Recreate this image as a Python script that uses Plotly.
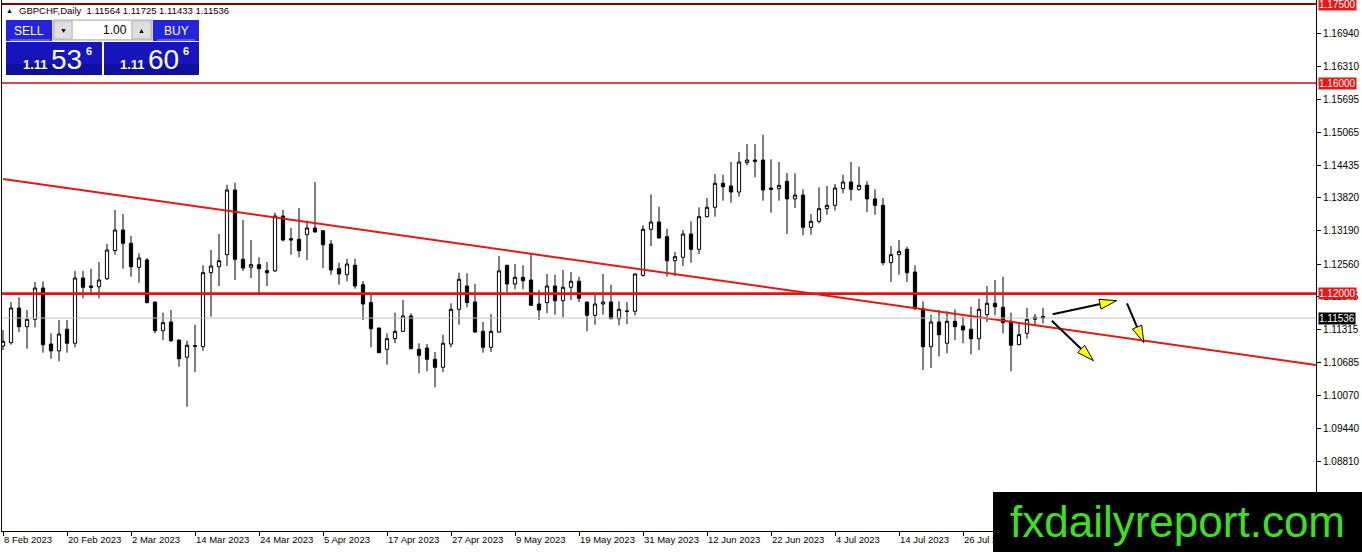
import plotly.graph_objects as go
import pandas as pd

# ---------------- data ----------------
dates = pd.bdate_range("2023-02-08", periods=131)

opens = [1.11004, 1.11067, 1.11726, 1.11371, 1.11511, 1.12106, 1.11042, 1.10912, 1.11322, 1.11056,
         1.12296, 1.12144, 1.12130, 1.12282, 1.12815, 1.13208, 1.12955, 1.12499, 1.12638, 1.11840,
         1.11295, 1.11460, 1.11118, 1.10791, 1.11010, 1.10991, 1.12397, 1.12511, 1.12739, 1.13968,
         1.12651, 1.12499, 1.12549, 1.12435, 1.12431, 1.13474, 1.13043, 1.13031, 1.13119, 1.13246,
         1.13195, 1.12942, 1.12473, 1.12359, 1.12537, 1.12169, 1.11829, 1.11346, 1.10941, 1.11143,
         1.11283, 1.11574, 1.10941, 1.10966, 1.10751, 1.10599, 1.11042, 1.11701, 1.12144, 1.11840,
         1.11283, 1.10979, 1.11270, 1.12537, 1.12182, 1.12309, 1.12258, 1.11802, 1.11829, 1.12144,
         1.11865, 1.12119, 1.12234, 1.11840, 1.11587, 1.11802, 1.11840, 1.11523, 1.11669, 1.11663,
         1.12347, 1.13221, 1.13360, 1.13081, 1.12625, 1.12689, 1.13132, 1.12841, 1.13461, 1.13639,
         1.14095, 1.14044, 1.13930, 1.14487, 1.14538, 1.14538, 1.14006, 1.13994, 1.14133, 1.13799,
         1.13871, 1.13259, 1.13373, 1.13613, 1.13677, 1.13994, 1.14120, 1.13981, 1.14057, 1.13799,
         1.13677, 1.12587, 1.12739, 1.12841, 1.12410, 1.11713, 1.10991, 1.11460, 1.11056, 1.11473,
         1.11384, 1.11322, 1.11143, 1.11599, 1.11815, 1.11739, 1.11473, 1.11029, 1.11245, 1.11511,
         1.11564]
highs = [1.11308, 1.11840, 1.11931, 1.11688, 1.12220, 1.12234, 1.11245, 1.11498, 1.11498, 1.12431,
         1.12431, 1.12473, 1.12600, 1.12942, 1.13588, 1.13512, 1.13094, 1.12765, 1.12676, 1.11845,
         1.11637, 1.11688, 1.11125, 1.11105, 1.11409, 1.12537, 1.12828, 1.13132, 1.14069, 1.14107,
         1.13398, 1.13018, 1.12689, 1.12600, 1.13537, 1.13588, 1.13246, 1.13626, 1.13385, 1.14120,
         1.13200, 1.13018, 1.12587, 1.12663, 1.12663, 1.12234, 1.11992, 1.11350, 1.11245, 1.11637,
         1.11878, 1.11625, 1.11056, 1.11042, 1.10890, 1.11219, 1.11815, 1.12397, 1.12385, 1.12182,
         1.11460, 1.11612, 1.12714, 1.12549, 1.12562, 1.12537, 1.12765, 1.12068, 1.12372, 1.12359,
         1.12448, 1.12410, 1.12321, 1.11845, 1.11992, 1.12372, 1.12169, 1.11853, 1.11840, 1.12385,
         1.13297, 1.13885, 1.13651, 1.13233, 1.12790, 1.13208, 1.13373, 1.13639, 1.13816, 1.14272,
         1.14259, 1.14500, 1.14690, 1.14842, 1.14842, 1.15019, 1.14551, 1.14500, 1.14291, 1.14285,
         1.13981, 1.13512, 1.14019, 1.14044, 1.14082, 1.14259, 1.14500, 1.14411, 1.14133, 1.13981,
         1.13816, 1.12904, 1.13018, 1.12891, 1.12537, 1.11853, 1.11599, 1.11688, 1.11663, 1.11701,
         1.11561, 1.11751, 1.11903, 1.12144, 1.12258, 1.12321, 1.11637, 1.11435, 1.11726, 1.11612,
         1.11725]
lows = [1.10928, 1.11029, 1.11270, 1.10953, 1.11359, 1.10877, 1.10763, 1.10714, 1.10877, 1.10979,
        1.11910, 1.11985, 1.11910, 1.12258, 1.12739, 1.12473, 1.12321, 1.12207, 1.11813, 1.11245,
        1.11118, 1.11080, 1.10611, 1.09851, 1.10510, 1.10912, 1.11561, 1.12144, 1.12524, 1.12258,
        1.12431, 1.12296, 1.11992, 1.12144, 1.12410, 1.12993, 1.12739, 1.12689, 1.12638, 1.13160,
        1.12486, 1.12359, 1.12169, 1.12234, 1.12093, 1.11498, 1.10979, 1.10870, 1.10649, 1.11056,
        1.11270, 1.10941, 1.10485, 1.10523, 1.10219, 1.10510, 1.10979, 1.11409, 1.11739, 1.11257,
        1.10877, 1.10890, 1.11257, 1.12030, 1.12081, 1.12081, 1.11770, 1.11498, 1.11625, 1.11599,
        1.11549, 1.11878, 1.11840, 1.11283, 1.11409, 1.11599, 1.11511, 1.11397, 1.11422, 1.11587,
        1.12321, 1.12904, 1.13043, 1.12321, 1.12334, 1.12524, 1.12587, 1.12752, 1.13449, 1.13461,
        1.13765, 1.13727, 1.13841, 1.14437, 1.14209, 1.13765, 1.13537, 1.13765, 1.13132, 1.13626,
        1.13107, 1.13119, 1.13335, 1.13499, 1.13578, 1.13905, 1.13765, 1.13955, 1.13550, 1.13499,
        1.12537, 1.12220, 1.12359, 1.12220, 1.11688, 1.10548, 1.10586, 1.10805, 1.10865, 1.11118,
        1.11056, 1.10845, 1.10928, 1.11460, 1.11587, 1.11245, 1.10523, 1.11020, 1.11143, 1.11397,
        1.11433]
closes = [1.11093, 1.11726, 1.11371, 1.11511, 1.12106, 1.11029, 1.10912, 1.11232, 1.11056, 1.12296,
          1.12119, 1.12119, 1.12258, 1.12828, 1.13208, 1.12955, 1.12511, 1.12676, 1.11829, 1.11295,
          1.11447, 1.11105, 1.10763, 1.11018, 1.11000, 1.12397, 1.12524, 1.12625, 1.13968, 1.12651,
          1.12486, 1.12549, 1.12473, 1.12397, 1.13474, 1.13018, 1.13018, 1.12815, 1.13246, 1.13170,
          1.12929, 1.12448, 1.12372, 1.12562, 1.12144, 1.11802, 1.11333, 1.10877, 1.11143, 1.11283,
          1.11574, 1.10953, 1.10827, 1.10751, 1.10599, 1.11056, 1.11701, 1.12271, 1.11829, 1.11270,
          1.10979, 1.11283, 1.12431, 1.12182, 1.12309, 1.12245, 1.11777, 1.11688, 1.12144, 1.11865,
          1.12119, 1.12234, 1.11910, 1.11587, 1.11802, 1.11840, 1.11523, 1.11701, 1.11664, 1.12372,
          1.13221, 1.13360, 1.13056, 1.12625, 1.12701, 1.13132, 1.12841, 1.13461, 1.13639, 1.14095,
          1.14031, 1.13930, 1.14500, 1.14538, 1.14513, 1.13968, 1.13981, 1.14057, 1.13799, 1.13871,
          1.13259, 1.13373, 1.13613, 1.13677, 1.14006, 1.14120, 1.13981, 1.14057, 1.13799, 1.13677,
          1.12587, 1.12739, 1.12803, 1.12397, 1.11713, 1.10991, 1.11460, 1.11219, 1.11473, 1.11371,
          1.11308, 1.11143, 1.11701, 1.11815, 1.11751, 1.11447, 1.11018, 1.11219, 1.11511, 1.11549,
          1.11536]

price_ticks = [1.08810, 1.09440, 1.10070, 1.10685, 1.11315, 1.11945, 1.12560,
               1.13190, 1.13820, 1.14435, 1.15065, 1.15695, 1.16310, 1.16940]
level_prices = [1.17500, 1.16000, 1.12000]
level_colors = ["#8a0000", "#c01010", "#e31313"]
level_widths = [2, 1.4, 2.6]
bid_price = 1.11536
ask_price = 1.11606

# trend line anchors (bar index, price)
trend_idx = [0, 164.1]
trend_price = [1.14177, 1.10643]

# hand-drawn arrows: (start idx, start price, end idx, end price)
arrows = [
    (131.2, 1.11607, 139.2, 1.11865),
    (131.1, 1.11485, 136.3, 1.10725),
    (140.5, 1.11815, 142.6, 1.11067),
]

symbol = "GBPCHF,Daily"
tick_every = 8
n_tick_labels = 16

# ---------------- geometry ----------------
W, H = 1362, 552
PL, PR, PT, PB = 2, 1316, 0, 531
XR = [-0.125, 164.125]
YR = [1.07489, 1.17578]

def pxp(x):
    return (x - PL) / (PR - PL)

def pyp(y):
    return (PB - y) / (PB - PT)

def d2px(i):
    return PL + (i - XR[0]) / (XR[1] - XR[0]) * (PR - PL)

def d2py(p):
    return PT + (YR[1] - p) / (YR[1] - YR[0]) * (PB - PT)

idx = list(range(len(dates)))
tickvals = idx[::tick_every][:n_tick_labels]
ticktext = [f"{d.day} {d.strftime('%b %Y')}" for d in dates[::tick_every]][:n_tick_labels]

FONT = "Liberation Sans, Arial, sans-serif"

fig = go.Figure()
fig.add_trace(go.Candlestick(
    x=idx, open=opens, high=highs, low=lows, close=closes,
    increasing=dict(line=dict(color="black", width=1), fillcolor="white"),
    decreasing=dict(line=dict(color="black", width=1), fillcolor="black"),
    whiskerwidth=0, hoverinfo="none", showlegend=False,
))
fig.add_trace(go.Scatter(
    x=trend_idx, y=trend_price, mode="lines",
    line=dict(color="#e01818", width=2), hoverinfo="skip", showlegend=False,
))

shapes = []
annotations = []

# level lines
for p, c, w in zip(level_prices, level_colors, level_widths):
    shapes.append(dict(type="line", xref="paper", yref="y", x0=0, x1=1, y0=p, y1=p,
                       line=dict(color=c, width=w), layer="above"))
shapes.append(dict(type="line", xref="paper", yref="y", x0=0, x1=1, y0=bid_price, y1=bid_price,
                   line=dict(color="#c0c0c0", width=1), layer="above"))

# axis price labels
for p in level_prices:
    annotations.append(dict(xref="paper", yref="y", x=pxp(1318), y=p, xanchor="left", yanchor="middle",
                            text=f"{p:.5f}", showarrow=False, bgcolor="#f01414",
                            font=dict(family=FONT, size=10, color="white"), borderpad=0))
annotations.append(dict(xref="paper", yref="y", x=pxp(1318), y=bid_price, xanchor="left", yanchor="middle",
                        text=f"{bid_price:.5f}", showarrow=False, bgcolor="black",
                        font=dict(family=FONT, size=10, color="white"), borderpad=0))

# arrows
for (i0, p0, i1, p1) in arrows:
    sx, sy = d2px(i0), d2py(p0)
    ex, ey = d2px(i1), d2py(p1)
    L = ((ex - sx) ** 2 + (ey - sy) ** 2) ** 0.5
    ux, uy = (ex - sx) / L, (ey - sy) / L
    nx, ny = -uy, ux
    hl, hw = 17, 5
    bx, by = ex - ux * hl, ey - uy * hl
    shapes.append(dict(type="line", xref="paper", yref="paper",
                       x0=pxp(sx), y0=pyp(sy), x1=pxp(bx + ux * 3), y1=pyp(by + uy * 3),
                       line=dict(color="black", width=2), layer="above"))
    pts = [(ex, ey), (bx + nx * hw, by + ny * hw), (bx - nx * hw, by - ny * hw)]
    path = "M " + " L ".join(f"{pxp(x):.5f},{pyp(y):.5f}" for x, y in pts) + " Z"
    shapes.append(dict(type="path", xref="paper", yref="paper", path=path,
                       fillcolor="#ffff00", line=dict(color="black", width=1), layer="above"))

# watermark box
shapes.append(dict(type="rect", xref="paper", yref="paper",
                   x0=pxp(993), x1=pxp(1370), y0=pyp(492), y1=pyp(560),
                   fillcolor="black", line=dict(width=0), layer="above"))
annotations.append(dict(xref="paper", yref="paper", x=pxp(1177), y=pyp(521), xanchor="center", yanchor="middle",
                        text="fxdailyreport.com", showarrow=False,
                        font=dict(family=FONT, size=44, color="#3ee01e")))

# trading panel
def rect(x0, y0, x1, y1, fill, line=None, lw=0):
    shapes.append(dict(type="rect", xref="paper", yref="paper",
                       x0=pxp(x0), x1=pxp(x1), y0=pyp(y1), y1=pyp(y0),
                       fillcolor=fill, line=dict(color=line or fill, width=lw), layer="above"))

def text(x, y, s, size, color, anchor="center", bold=False):
    annotations.append(dict(xref="paper", yref="paper", x=pxp(x), y=pyp(y), xanchor=anchor, yanchor="middle",
                            text=f"<b>{s}</b>" if bold else s, showarrow=False, borderpad=0,
                            font=dict(family=FONT, size=size, color=color)))

rect(6, 20, 52, 41, "#2424dc")
rect(153, 20, 199, 41, "#2424dc")
shapes.append(dict(type="line", xref="paper", yref="paper", x0=pxp(10), x1=pxp(50), y0=pyp(40), y1=pyp(40),
                   line=dict(color="#9090ff", width=1), layer="above"))
shapes.append(dict(type="line", xref="paper", yref="paper", x0=pxp(157), x1=pxp(195), y0=pyp(40), y1=pyp(40),
                   line=dict(color="#9090ff", width=1), layer="above"))
rect(53, 20, 152, 40, "#e6e6e6", "#a8a8a8", 1)
rect(54, 21, 72, 39, "#dedede", "#b8b8b8", 1)
rect(73, 21, 131, 39, "white")
rect(132, 21, 151, 39, "#dedede", "#b8b8b8", 1)
rect(6, 42, 102, 75, "#1616bc")
rect(104, 42, 199, 75, "#1616bc")
rect(6, 64, 102, 75, "#10109e")
rect(104, 64, 199, 75, "#10109e")

text(29, 30.5, "SELL", 12, "white")
text(176, 30.5, "BUY", 12, "white")
text(63, 30, "▼", 7, "black")
text(141, 30, "▲", 7, "black")
text(128, 30, "1.00", 12, "black", anchor="right")
sell_txt = f"{bid_price:.5f}"
buy_txt = f"{ask_price:.5f}"
for x0, s in ((22, sell_txt), (119, buy_txt)):
    text(x0, 65, s[:4], 13, "white", anchor="left", bold=True)
    text(x0 + 28, 59, s[4:6], 28, "white", anchor="left")
    text(x0 + 63, 50.5, s[6], 11, "white", anchor="left", bold=True)

# header
text(5, 10.5, "▲", 7, "black", anchor="left")
text(18, 10.5, f"{symbol}\u00a0\u00a0{opens[-1]:.5f} {highs[-1]:.5f} {lows[-1]:.5f} {closes[-1]:.5f}",
     9.5, "black", anchor="left")

fig.update_layout(
    width=W, height=H,
    margin=dict(l=PL, r=W - PR, t=PT, b=H - PB, pad=0),
    paper_bgcolor="white", plot_bgcolor="white",
    showlegend=False, boxgap=0.42,
    shapes=shapes, annotations=annotations,
    xaxis=dict(range=XR, showgrid=False, zeroline=False, showline=True, linecolor="black", linewidth=1,
               mirror=True, ticks="outside", ticklen=4, tickcolor="black", tickvals=tickvals,
               ticktext=ticktext, ticklabelposition="outside right",
               tickfont=dict(family=FONT, size=9.5, color="black"), rangeslider=dict(visible=False),
               fixedrange=True),
    yaxis=dict(range=YR, side="right", showgrid=False, zeroline=False, showline=True, linecolor="black",
               linewidth=1, mirror=True, ticks="outside", ticklen=4, tickcolor="black",
               tickvals=price_ticks, ticktext=[f"{v:.5f}" for v in price_ticks],
               tickfont=dict(family=FONT, size=10, color="black"), fixedrange=True),
)

fig.write_html(
    "out.html",
    config={"displayModeBar": False},
    post_script="document.body.style.margin='0px';document.body.style.padding='0px';"
                "document.body.style.overflow='hidden';",
)
